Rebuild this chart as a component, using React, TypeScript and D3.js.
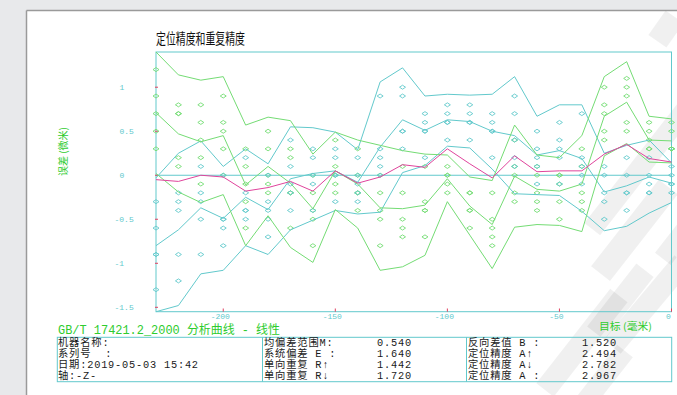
import React from 'react';
import * as d3 from 'd3';

// target positions (mm)
const positions = [-230, -220, -210, -200, -190, -180, -170, -160, -150, -140, -130, -120, -110, -100, -90, -80, -70, -60, -50, -40, -30, -20, -10, 0];

// forward direction (green): mean + 2s, mean, mean - 2s
const fwdUpper = [1.40, 1.14, 1.08, 1.12, 0.57, 0.66, 0.62, 0.24, 0.49, 0.40, 0.34, 0.28, 0.24, 0.23, -0.02, -0.06, 0.57, 0.23, 0.20, 0.45, 1.12, 1.29, 0.67, 0.64];
const fwdMean = [0.71, 0.47, 0.38, 0.45, -0.11, 0.10, -0.09, -0.38, 0.05, -0.10, -0.37, -0.38, -0.34, -0.04, -0.35, -0.56, -0.01, -0.16, -0.18, -0.10, 0.67, 0.83, 0.40, 0.39];
const fwdLower = [0.02, -0.19, -0.31, -0.22, -0.80, -0.46, -0.82, -0.99, -0.39, -0.60, -1.08, -1.04, -0.91, -0.30, -0.68, -1.06, -0.59, -0.56, -0.57, -0.64, 0.22, 0.36, 0.15, 0.14];

// reverse direction (cyan)
const revUpper = [-0.03, 0.25, 0.39, 0.10, 0.30, 0.13, 0.55, 0.54, 0.49, 0.29, 1.06, 1.22, 0.90, 0.92, 0.91, 0.92, 1.12, 0.67, 0.80, 0.80, 0.25, 0.34, 0.40, 0.14];
const revMean = [-0.80, -0.62, -0.37, -0.49, -0.25, -0.39, -0.04, 0.02, 0.05, -0.08, 0.32, 0.63, 0.51, 0.63, 0.61, 0.50, 0.45, 0.23, 0.28, 0.19, -0.19, -0.12, -0.02, -0.09];
const revLower = [-1.55, -1.48, -1.12, -1.08, -0.80, -0.90, -0.62, -0.51, -0.40, -0.44, -0.42, 0.03, 0.11, 0.33, 0.31, 0.07, -0.21, -0.22, -0.23, -0.41, -0.63, -0.58, -0.43, -0.31];

// bidirectional mean (magenta)
const biMean = [-0.05, -0.07, 0.0, -0.02, -0.18, -0.14, -0.07, -0.18, 0.05, -0.09, -0.02, 0.12, 0.09, 0.30, 0.13, -0.03, 0.22, 0.04, 0.05, 0.05, 0.24, 0.35, 0.19, 0.15];

// individual runs
const fwdRuns = [
  [1.2, 0.9, 0.7, 0.5, 0.3], [0.8, 0.7, 0.7, 0.2, 0.1], [0.8, 0.6, 0.4, 0.2, -0.1], [0.9, 0.6, 0.5, 0.3, 0.0],
  [0.3, 0.1, -0.1, -0.3, -0.6], [0.5, 0.3, 0.0, -0.1, -0.2], [0.3, 0.2, -0.2, -0.2, -0.6], [0.0, -0.2, -0.4, -0.5, -0.8],
  [0.4, 0.1, 0.0, -0.1, -0.2], [0.3, 0.0, -0.2, -0.2, -0.4], [0.0, -0.2, -0.4, -0.5, -0.8], [0.1, -0.2, -0.5, -0.6, -0.7],
  [0.1, -0.3, -0.4, -0.4, -0.7], [0.1, 0.0, 0.0, -0.1, -0.2], [-0.2, -0.2, -0.4, -0.4, -0.6], [-0.2, -0.5, -0.6, -0.7, -0.8],
  [0.4, 0.1, 0.0, -0.2, -0.3], [0.1, 0.0, -0.2, -0.3, -0.4], [0.0, 0.0, -0.1, -0.3, -0.5], [0.3, 0.1, -0.2, -0.3, -0.4],
  [1.0, 0.8, 0.7, 0.5, 0.4], [1.1, 1.0, 0.9, 0.6, 0.5], [0.6, 0.5, 0.4, 0.3, 0.3], [0.6, 0.5, 0.3, 0.3, 0.3],
];
const revRuns = [
  [-0.3, -0.6, -0.9, -0.9, -1.3], [-0.2, -0.3, -0.4, -0.9, -1.2], [0.1, -0.2, -0.3, -0.5, -0.9], [0.0, -0.5, -0.5, -0.6, -0.8],
  [0.2, -0.2, -0.4, -0.4, -0.5], [0.0, -0.3, -0.4, -0.5, -0.7], [0.4, 0.1, -0.1, -0.2, -0.4], [0.3, 0.2, 0.0, -0.1, -0.4],
  [0.3, 0.2, 0.0, 0.0, -0.3], [0.2, 0.0, -0.1, -0.2, -0.3], [0.9, 0.3, 0.2, 0.1, 0.0], [1.0, 0.9, 0.5, 0.5, 0.3],
  [0.7, 0.6, 0.5, 0.5, 0.2], [0.8, 0.7, 0.6, 0.6, 0.4], [0.8, 0.7, 0.6, 0.6, 0.4], [0.7, 0.6, 0.5, 0.5, 0.2],
  [0.9, 0.7, 0.4, 0.2, 0.1], [0.5, 0.3, 0.2, 0.1, -0.1], [0.6, 0.4, 0.3, 0.2, -0.1], [0.7, 0.2, 0.1, 0.0, -0.1],
  [0.1, 0.0, -0.2, -0.3, -0.5], [0.2, 0.0, -0.2, -0.2, -0.4], [0.2, 0.0, -0.1, -0.2, -0.2], [0.1, 0.0, -0.1, -0.1, -0.2],
];

const yTicks = [1, 0.5, 0, -0.5, -1, -1.5];
const yTickLabels = ['1', '0.5', '0', '-0.5', '-1', '-1.5'];
const xTicks = [-200, -150, -100, -50, 0];
const xTickLabels = ['-200', '-150', '-100', '-50', '0'];

const title = '定位精度和重复精度';
const yTitle = '误差 (微米)';
const xTitle = '目标 (毫米)';
const standardLine = 'GB/T 17421.2_2000 分析曲线 - 线性';
const infoLabels = ['机器名称:', '系列号  :', '日期:2019-05-03 15:42', '轴:-Z-'];
const statLabelsA = ['均偏差范围M:', '系统偏差 E :', '单向重复 R↑', '单向重复 R↓'];
const statValuesA = ['0.540', '1.640', '1.442', '1.720'];
const statLabelsB = ['反向差值 B :', '定位精度 A↑', '定位精度 A↓', '定位精度 A :'];
const statValuesB = ['1.520', '2.494', '2.782', '2.967'];

const GREEN = '#74dc74';
const CYAN = '#62c9cc';
const MAGENTA = '#e0449c';
const TEXT_GREEN = '#2ecc2e';
const MONO = '"Liberation Mono", "Noto Sans CJK SC", monospace';

export default function App() {
  const W = 677;
  const H = 395;
  const x = d3.scaleLinear().domain([-230, 0]).range([156, 671.5]);
  const y = d3.scaleLinear().domain([-1.55, 1.4]).range([311.7, 52]);
  const lineGen = d3
    .line<number>()
    .x((_, i) => x(positions[i]))
    .y((d) => y(d));
  const diamond = 'M0,-2L3,0L0,2L-3,0Z';

  const series: { vals: number[]; color: string }[] = [
    { vals: revUpper, color: CYAN },
    { vals: revMean, color: CYAN },
    { vals: revLower, color: CYAN },
    { vals: fwdUpper, color: GREEN },
    { vals: fwdMean, color: GREEN },
    { vals: fwdLower, color: GREEN },
    { vals: biMean, color: MAGENTA },
  ];

  const rowY = [346, 357, 368, 378.5];
  const tableText = { fontFamily: MONO, fontSize: 10.3, fill: '#1a1a1a', letterSpacing: 0.8 } as const;

  return (
    <div style={{ position: 'absolute', left: 0, top: 0, width: W, height: H, overflow: 'hidden' }}>
      <svg width={W} height={H} style={{ display: 'block' }}>
        <rect x={0} y={0} width={W} height={H} fill="#e8e9eb" />
        <rect x={27} y={11} width={W} height={H} fill="#ffffff" />
        <line x1={26.5} y1={10.5} x2={W} y2={10.5} stroke="#9a9a9a" strokeWidth={1.5} />
        <line x1={26.5} y1={10.5} x2={26.5} y2={H} stroke="#9a9a9a" strokeWidth={1.5} />

        {/* watermark */}
        <g fill="#000" fillOpacity={0.06}>
          <rect x={655} y={14} width={22} height={30} transform="rotate(35 666 29)" />
          <g transform="translate(620,200) rotate(-52)">
            <rect x={-40} y={-14} width={170} height={20} />
            <rect x={-70} y={18} width={110} height={24} />
            <rect x={-120} y={52} width={80} height={22} />
            <rect x={-20} y={60} width={60} height={20} />
          </g>
          <g transform="translate(575,350) rotate(-52)">
            <rect x={-50} y={-10} width={120} height={22} />
            <rect x={-40} y={30} width={70} height={20} />
          </g>
          <rect x={640} y={250} width={22} height={110} transform="rotate(40 650 300)" />
        </g>

        <text x={156} y={44} fontFamily='"Noto Sans CJK SC", sans-serif' fontSize={15} textLength={89} lengthAdjust="spacingAndGlyphs" fill="#111">
          {title}
        </text>

        {/* frame */}
        <rect x={156} y={52} width={515.5} height={259.7} fill="none" stroke={CYAN} strokeWidth={1} />
        <line x1={156} x2={671.5} y1={y(0)} y2={y(0)} stroke={CYAN} strokeWidth={1.2} />

        {/* ticks */}
        {yTicks.map((t, i) => (
          <g key={'yt' + i}>
            <line x1={155} x2={158} y1={y(t)} y2={y(t)} stroke="#e04060" strokeWidth={1} />
            <text x={t < 0 ? 114.5 : 119.5} y={y(t) + 3} fontFamily={MONO} fontSize={8} fill={CYAN}>
              {yTickLabels[i]}
            </text>
          </g>
        ))}
        {xTicks.map((t, i) => (
          <g key={'xt' + i}>
            <line x1={x(t)} x2={x(t)} y1={311.7} y2={308.5} stroke="#e04060" strokeWidth={1} />
            <text x={x(t) - 3} y={319} textAnchor="middle" fontFamily={MONO} fontSize={8} fill={CYAN}>
              {xTickLabels[i]}
            </text>
          </g>
        ))}

        <text
          transform="translate(62,151.5) rotate(-90)"
          textAnchor="middle"
          dominantBaseline="central"
          fontFamily='"Noto Sans CJK SC", sans-serif'
          fontSize={10}
          fill={TEXT_GREEN}
          style={{ whiteSpace: 'pre' }}
        >
          {yTitle}
        </text>
        <text x={599} y={330} fontFamily='"Noto Sans CJK SC", sans-serif' fontSize={10} fill={TEXT_GREEN} textLength={53} lengthAdjust="spacingAndGlyphs" style={{ whiteSpace: 'pre' }}>
          {xTitle}
        </text>

        {/* runs */}
        {fwdRuns.map((col, i) =>
          col.map((v, j) => (
            <path key={'f' + i + '-' + j} d={diamond} transform={`translate(${x(positions[i])},${y(v)})`} fill="none" stroke={GREEN} strokeWidth={0.9} />
          ))
        )}
        {revRuns.map((col, i) =>
          col.map((v, j) => (
            <path key={'r' + i + '-' + j} d={diamond} transform={`translate(${x(positions[i])},${y(v)})`} fill="none" stroke={CYAN} strokeWidth={0.9} />
          ))
        )}

        {/* curves */}
        {series.map((s, i) => (
          <path key={'s' + i} d={lineGen(s.vals) as string} fill="none" stroke={s.color} strokeWidth={1} />
        ))}

        {/* footer */}
        <text x={58} y={334} fontFamily={MONO} fontSize={12} fill={TEXT_GREEN} textLength={222} lengthAdjust="spacingAndGlyphs" style={{ whiteSpace: 'pre' }}>
          {standardLine}
        </text>
        <rect x={57.3} y={337.3} width={614.4} height={44.4} fill="none" stroke={CYAN} strokeWidth={1} />
        <line x1={262.5} x2={262.5} y1={337.3} y2={381.7} stroke={CYAN} strokeWidth={1} />
        <line x1={466.5} x2={466.5} y1={337.3} y2={381.7} stroke={CYAN} strokeWidth={1} />
        {infoLabels.map((t, i) => (
          <text key={'il' + i} x={58} y={rowY[i]} {...tableText} style={{ whiteSpace: 'pre' }}>
            {t}
          </text>
        ))}
        {statLabelsA.map((t, i) => (
          <text key={'la' + i} x={264} y={rowY[i]} {...tableText} style={{ whiteSpace: 'pre' }}>
            {t}
          </text>
        ))}
        {statValuesA.map((t, i) => (
          <text key={'va' + i} x={377} y={rowY[i]} {...tableText}>
            {t}
          </text>
        ))}
        {statLabelsB.map((t, i) => (
          <text key={'lb' + i} x={468} y={rowY[i]} {...tableText} style={{ whiteSpace: 'pre' }}>
            {t}
          </text>
        ))}
        {statValuesB.map((t, i) => (
          <text key={'vb' + i} x={582} y={rowY[i]} {...tableText}>
            {t}
          </text>
        ))}
      </svg>
    </div>
  );
}
